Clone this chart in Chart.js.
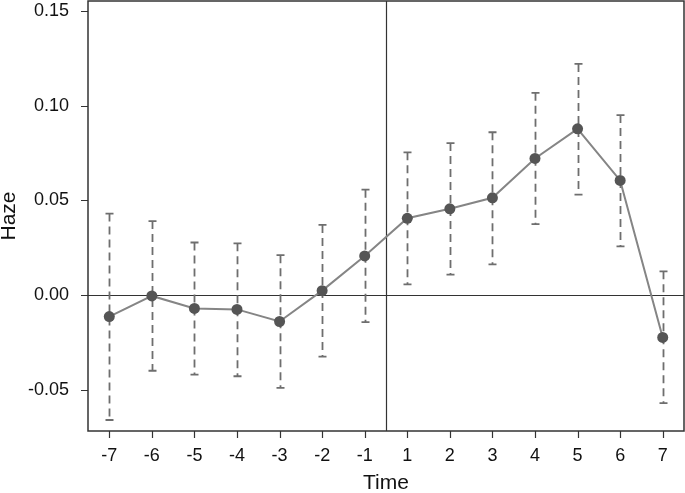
<!DOCTYPE html>
<html>
<head>
<meta charset="utf-8">
<script src="https://cdn.jsdelivr.net/npm/chart.js@4"></script>
<style>
  html, body { margin: 0; padding: 0; background: #fff; }
  #wrap { width: 685px; height: 493px; }
</style>
</head>
<body>
<div id="wrap"><canvas id="chart" width="685" height="493"></canvas></div>
<script>
// Event-study estimates with confidence intervals
const periods = ["-7", "-6", "-5", "-4", "-3", "-2", "-1", "1", "2", "3", "4", "5", "6", "7"];
const estimates = [-0.0114, -0.0005, -0.0071, -0.0076, -0.0140, 0.0023, 0.0206, 0.0405, 0.0455, 0.0513, 0.0721, 0.0877, 0.0605, -0.0224];
const upperCI = [0.0430, 0.0390, 0.0277, 0.0273, 0.0210, 0.0370, 0.0556, 0.0753, 0.0802, 0.0859, 0.1067, 0.1220, 0.0950, 0.0125];
const lowerCI = [-0.0660, -0.0400, -0.0420, -0.0429, -0.0490, -0.0325, -0.0143, 0.0056, 0.0107, 0.0162, 0.0374, 0.0530, 0.0257, -0.0571];
const yTicks = [-0.05, 0, 0.05, 0.10, 0.15];

// error bars, reference lines, tick marks and frame
const extras = {
  id: "extras",
  beforeDatasetsDraw(chart) {
    const { ctx, chartArea: a, scales: { x, y } } = chart;
    ctx.save();
    // zero line
    ctx.strokeStyle = "#333";
    ctx.lineWidth = 1.2;
    ctx.beginPath();
    const y0 = Math.round(y.getPixelForValue(0)) + 0.5;
    ctx.moveTo(a.left, y0);
    ctx.lineTo(a.right, y0);
    // treatment line between -1 and 1
    const xv = Math.round((x.getPixelForValue(6) + x.getPixelForValue(7)) / 2) + 0.5;
    ctx.moveTo(xv, a.top);
    ctx.lineTo(xv, a.bottom);
    // tick marks
    periods.forEach((p, i) => {
      const px = Math.round(x.getPixelForValue(i)) + 0.5;
      ctx.moveTo(px, a.bottom);
      ctx.lineTo(px, a.bottom + 7);
    });
    yTicks.forEach(v => {
      const py = Math.round(y.getPixelForValue(v)) + 0.5;
      ctx.moveTo(a.left - 7, py);
      ctx.lineTo(a.left, py);
    });
    ctx.stroke();

    // confidence intervals
    ctx.strokeStyle = "#6e6e6e";
    ctx.lineWidth = 1.8;
    periods.forEach((p, i) => {
      const px = Math.round(x.getPixelForValue(i)) + 0.5;
      const yt = y.getPixelForValue(upperCI[i]);
      const yb = y.getPixelForValue(lowerCI[i]);
      ctx.setLineDash([8, 5]);
      ctx.beginPath();
      ctx.moveTo(px, yt);
      ctx.lineTo(px, yb);
      ctx.stroke();
      ctx.setLineDash([]);
      ctx.beginPath();
      ctx.moveTo(px - 4, yt);
      ctx.lineTo(px + 4, yt);
      ctx.moveTo(px - 4, yb);
      ctx.lineTo(px + 4, yb);
      ctx.stroke();
    });
    ctx.restore();
  },
  afterDraw(chart) {
    const { ctx, chartArea: a } = chart;
    ctx.save();
    ctx.strokeStyle = "#333";
    ctx.lineWidth = 1.5;
    ctx.strokeRect(a.left, a.top, a.right - a.left, a.bottom - a.top);
    ctx.restore();
  }
};

new Chart(document.getElementById("chart").getContext("2d"), {
  type: "line",
  data: {
    labels: periods,
    datasets: [{
      label: "Haze",
      data: estimates,
      borderColor: "#858585",
      borderWidth: 2,
      pointRadius: 5.5,
      pointBackgroundColor: "#555",
      pointBorderColor: "#555",
      pointBorderWidth: 0,
      tension: 0
    }]
  },
  options: {
    responsive: false,
    animation: false,
    layout: { autoPadding: false, padding: { top: 1, right: 1, left: 0, bottom: 0 } },
    plugins: {
      legend: { display: false },
      tooltip: { enabled: false }
    },
    scales: {
      x: {
        type: "category",
        offset: true,
        grid: { display: false },
        border: { display: false },
        ticks: { color: "#111", font: { family: "Liberation Sans, Arial", size: 18 }, padding: 6, maxRotation: 0, autoSkip: false },
        title: { display: true, text: "Time", color: "#111", font: { family: "Liberation Sans, Arial", size: 21 }, padding: { top: 0, bottom: -3 } },
        afterFit(scale) { scale.height = 62; scale.paddingLeft = 0; scale.paddingRight = 0; }
      },
      y: {
        min: -0.0718,
        max: 0.1552,
        grid: { display: false },
        border: { display: false },
        afterBuildTicks(scale) { scale.ticks = yTicks.map(v => ({ value: v })); },
        ticks: {
          color: "#111",
          font: { family: "Liberation Sans, Arial", size: 18 },
          padding: 11,
          callback: v => v.toFixed(2)
        },
        title: { display: true, text: "Haze", color: "#111", font: { family: "Liberation Sans, Arial", size: 21 }, padding: { top: -3, bottom: 0 } },
        afterFit(scale) { scale.width = 88; scale.paddingTop = 0; scale.paddingBottom = 0; }
      }
    }
  },
  plugins: [extras]
});
</script>
</body>
</html>
